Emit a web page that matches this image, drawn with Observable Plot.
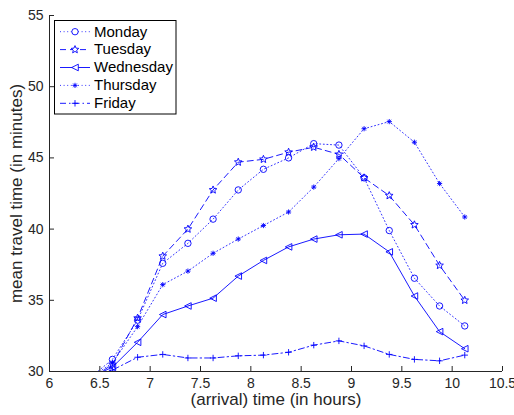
<!DOCTYPE html>
<html>
<head>
<meta charset="utf-8">
<script src="https://cdn.jsdelivr.net/npm/d3@7"></script>
<script src="https://cdn.jsdelivr.net/npm/@observablehq/plot@0.6"></script>
<style>
  html, body { margin: 0; padding: 0; background: #fff; }
  #wrap { position: relative; width: 514px; height: 415px; }
  #wrap svg { position: absolute; left: 0; top: 0; }
</style>
</head>
<body>
<div id="wrap"></div>
<script>
// ---- data ----
const hours = [6.375, 6.625, 6.875, 7.125, 7.375, 7.625, 7.875, 8.125, 8.375, 8.625, 8.875, 9.125, 9.375, 9.625, 9.875, 10.125];
const monday    = [29.4, 30.85, 33.6, 37.6, 39.0, 40.7, 42.75, 44.2, 45.0, 46.0, 45.9, 43.6, 39.9, 36.55, 34.6, 33.2];
const tuesday   = [29.3, 30.5, 33.75, 38.1, 40.0, 42.75, 44.7, 44.9, 45.4, 45.75, 45.25, 43.6, 42.35, 40.3, 37.45, 35.0];
const wednesday = [29.5, 30.3, 32.05, 34.0, 34.6, 35.15, 36.7, 37.8, 38.75, 39.3, 39.6, 39.65, 38.4, 35.3, 32.8, 31.6];
const thursday  = [29.4, 30.6, 33.15, 36.1, 37.05, 38.3, 39.3, 40.25, 41.2, 42.95, 44.95, 47.05, 47.55, 46.1, 43.2, 40.85];
const friday    = [29.7, 30.1, 31.0, 31.2, 30.95, 30.95, 31.1, 31.15, 31.35, 31.85, 32.15, 31.8, 31.2, 30.85, 30.75, 31.15];
const dayNames  = ["Monday", "Tuesday", "Wednesday", "Thursday", "Friday"];
const xTicks = [6, 6.5, 7, 7.5, 8, 8.5, 9, 9.5, 10, 10.5];
const yTicks = [30, 35, 40, 45, 50, 55];
const xLabel = "(arrival) time (in hours)";
const yLabel = "mean travel time (in minutes)";

// ---- custom MATLAB-like markers ----
const rad = s => Math.sqrt(s / Math.PI);
const symAsterisk = {draw(c, s) { const r = rad(s), d = r * Math.SQRT1_2;
  c.moveTo(-r, 0); c.lineTo(r, 0); c.moveTo(0, -r); c.lineTo(0, r);
  c.moveTo(-d, -d); c.lineTo(d, d); c.moveTo(-d, d); c.lineTo(d, -d); }};
const symPlus = {draw(c, s) { const r = rad(s);
  c.moveTo(-r, 0); c.lineTo(r, 0); c.moveTo(0, -r); c.lineTo(0, r); }};
const symTriLeft = {draw(c, s) { const r = rad(s);
  c.moveTo(-r, 0); c.lineTo(r, -r); c.lineTo(r, r); c.closePath(); }};
const symCircle = {draw(c, s) { const r = rad(s); c.moveTo(r, 0); c.arc(0, 0, r, 0, 2 * Math.PI); }};
const symStar = {draw(c, s) { const R = rad(s), r = R * 0.45;
  for (let i = 0; i < 10; i++) { const a = -Math.PI / 2 + i * Math.PI / 5, rr = i % 2 ? r : R;
    const x = rr * Math.cos(a), y = rr * Math.sin(a); i ? c.lineTo(x, y) : c.moveTo(x, y); }
  c.closePath(); }};

const BLUE = "#0000ff";
const series = [
  {name: dayNames[0], values: monday,    dash: "1 2.6",       width: 0.8, sym: symCircle,   r: 3.2},
  {name: dayNames[1], values: tuesday,   dash: "6 4",         width: 0.9, sym: symStar,     r: 4.0},
  {name: dayNames[2], values: wednesday, dash: null,          width: 0.9, sym: symTriLeft,  r: 3.3},
  {name: dayNames[3], values: thursday,  dash: "1 2.6",       width: 0.8, sym: symAsterisk, r: 2.6},
  {name: dayNames[4], values: friday,    dash: "6 3 1.5 3",   width: 0.9, sym: symPlus,     r: 3.2}
];

const W = 514, H = 415, mL = 49, mR = 12, mT = 15, mB = 44;
const xDom = [6, 10.5], yDom = [30, 55];
const tickLen = 5;
const yTickU = tickLen * (yDom[1] - yDom[0]) / (H - mT - mB);
const xTickU = tickLen * (xDom[1] - xDom[0]) / (W - mL - mR);
const AX = "#262626";

const marks = [];
for (const s of series) {
  const rows = hours.map((h, i) => ({h, v: s.values[i]}));
  marks.push(Plot.line(rows, {x: "h", y: "v", stroke: BLUE, strokeWidth: s.width,
    strokeDasharray: s.dash, clip: true}));
  marks.push(Plot.dot(rows, {x: "h", y: "v", symbol: s.sym, r: s.r, stroke: BLUE,
    strokeWidth: 0.9, fill: "none", clip: true}));
}
marks.push(
  Plot.ruleX([xDom[0]], {stroke: AX, strokeWidth: 1}),
  Plot.ruleY([yDom[0]], {stroke: AX, strokeWidth: 1}),
  Plot.ruleX(xTicks, {x: d => d, y1: yDom[0], y2: yDom[0] + yTickU, stroke: AX, strokeWidth: 1}),
  Plot.ruleY(yTicks, {y: d => d, x1: xDom[0], x2: xDom[0] + xTickU, stroke: AX, strokeWidth: 1}),
  Plot.axisX(xTicks, {tickSize: 0, tickPadding: 7, fontSize: 14, label: null, fill: AX, tickFormat: d => String(d)}),
  Plot.axisY(yTicks, {tickSize: 0, tickPadding: 6, fontSize: 14, label: null, fill: AX, tickFormat: d => String(d)}),
  Plot.text([xLabel], {text: d => d, frameAnchor: "bottom", dy: 33.5, lineAnchor: "bottom", textAnchor: "middle", fontSize: 17, fill: AX}),
  Plot.text([yLabel], {text: d => d, frameAnchor: "left", dx: -28, rotate: -90, lineAnchor: "bottom", textAnchor: "middle", fontSize: 17, fill: AX})
);

const chart = Plot.plot({
  width: W, height: H,
  marginLeft: mL, marginRight: mR, marginTop: mT, marginBottom: mB,
  style: {fontFamily: "'Liberation Sans', Arial, Helvetica, sans-serif", background: "#fff", color: AX, overflow: "visible"},
  x: {domain: xDom},
  y: {domain: yDom},
  marks
});
const wrap = document.getElementById("wrap");
wrap.appendChild(chart);

// ---- legend overlay (inside the axes, top-left) ----
const lg = d3.select(wrap).append("svg")
  .attr("width", W).attr("height", H)
  .style("pointer-events", "none")
  .attr("font-family", "'Liberation Sans', Arial, Helvetica, sans-serif");
lg.append("rect").attr("x", 54.5).attr("y", 20.5).attr("width", 121.5).attr("height", 93.5)
  .attr("fill", "#fff").attr("stroke", "#000").attr("stroke-width", 1);
series.forEach((s, i) => {
  const y = 31.7 + i * 17.9;
  lg.append("line").attr("x1", 60).attr("x2", 90).attr("y1", y).attr("y2", y)
    .attr("stroke", BLUE).attr("stroke-width", s.width)
    .attr("stroke-dasharray", s.dash);
  lg.append("path").attr("d", d3.symbol(s.sym, Math.PI * s.r * s.r)())
    .attr("transform", `translate(75,${y})`)
    .attr("fill", s.sym === symCircle || s.sym === symStar || s.sym === symTriLeft ? "#fff" : "none")
    .attr("stroke", BLUE).attr("stroke-width", 0.9);
  lg.append("text").attr("x", 94).attr("y", y + 4.8).attr("font-size", 15).attr("fill", "#000").text(s.name);
});
</script>
</body>
</html>
